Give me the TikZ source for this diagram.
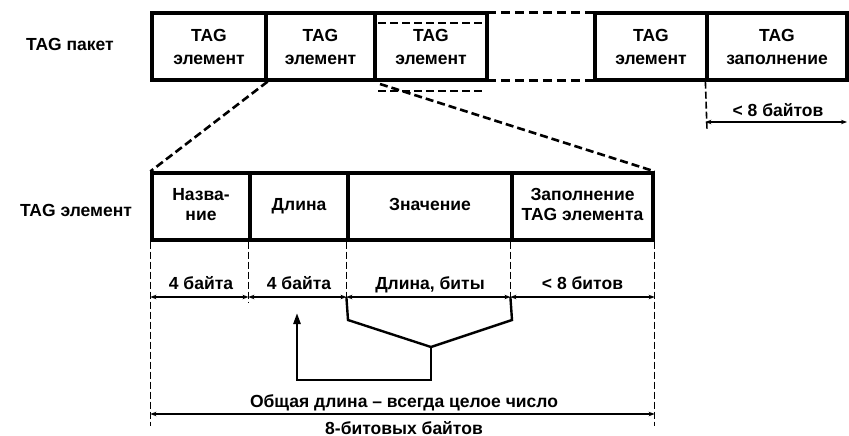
\documentclass[tikz,border=0pt]{standalone}
\usepackage{fontspec}
\setmainfont{Liberation Sans}
\usetikzlibrary{arrows.meta}
\newcommand{\vs}{\rule[-4pt]{0pt}{16pt}}
\begin{document}
\begin{tikzpicture}[x=1pt,y=-1pt,
  txt/.style={font=\fontsize{17.5}{20}\selectfont\bfseries, align=center, inner sep=0pt, anchor=base},
  topbox/.style={draw, line width=3.2pt, minimum height=67pt, inner sep=0pt, align=center,
    font=\fontsize{17.5}{23}\selectfont\bfseries},
  lowbox/.style={draw, line width=3.2pt, minimum height=67pt, inner sep=0pt, align=center,
    font=\fontsize{17.5}{20}\selectfont\bfseries},
  thickdash/.style={line width=3pt, dash pattern=on 9pt off 5pt},
  zoomline/.style={line width=2.6pt, dash pattern=on 8pt off 4pt},
  dimdash/.style={line width=1.6pt, dash pattern=on 7pt off 3pt},
  dimline/.style={line width=1.8pt, {Stealth[length=6pt,width=4.5pt]}-{Stealth[length=6pt,width=4.5pt]}},
  bracket/.style={line width=2.4pt}]
\useasboundingbox (0,0) rectangle (849,436);

% ---- labels on the left
\node[txt] (lpak) at (70,51) {TAG пакет};
\node[txt] (lel) at (76,216) {TAG элемент};

% ---- top row (TAG packet)
\node[topbox, minimum width=114pt] (t1) at (209,46.5) {TAG\\элемент};
\node[topbox, minimum width=109pt] (t2) at (320.5,46.5) {TAG\\элемент};
\node[topbox, minimum width=112pt] (t3) at (431,46.5) {TAG\\элемент};
\node[inner sep=0pt, minimum width=108pt, minimum height=67pt] (gap) at (541,46.5) {};
\node[topbox, minimum width=112pt] (t5) at (651,46.5) {TAG\\элемент};
\node[topbox, minimum width=140pt] (t6) at (777,46.5) {TAG\\заполнение};
\draw[thickdash] (gap.north west) -- (gap.north east);
\draw[thickdash] (gap.south west) -- (gap.south east);
% variable size marks of the third element
\coordinate (t3i1) at (378,23);
\coordinate (t3i2) at (485,23);
\coordinate (t3o1) at (378,91);
\coordinate (t3o2) at (485,91);
\draw[zoomline] (t3i1) -- (t3i2);
\draw[zoomline] (t3o1) -- (t3o2);

% ---- "< 8 байтов" at the top right
\coordinate (tf) at (707,130);
\coordinate (tar) at (847,122);
\draw[dimdash] (t6.south west) -- (tf);
\draw[dimline] (t6.south west |- tar) -- (tar);
\node[txt] (tfl) at (778,117) {< 8 байтов};

% ---- lower row (TAG element)
\node[lowbox, minimum width=98pt] (n1) at (201,206.5) {Назва-\vs\\ние\vs};
\node[lowbox, minimum width=98pt] (n2) at (299,206.5) {Длина\vs};
\node[lowbox, minimum width=164pt] (n3) at (430,206.5) {Значение\vs};
\node[lowbox, minimum width=141pt] (n4) at (582.5,206.5) {Заполнение\vs\\TAG элемента\vs};

% ---- zoom connectors
\coordinate (zs) at (380,84);
\draw[zoomline] (t1.south east) -- (n1.north west);
\draw[zoomline] (zs) -- (n4.north east);

% ---- dimension lines
\coordinate (dy) at (0,297);
\coordinate (shorty) at (0,302);
\coordinate (longy) at (0,426);
\draw[dimdash] (n1.south west) -- (n1.south west |- longy);
\draw[dimdash] (n4.south east) -- (n4.south east |- longy);
\draw[dimdash] (n2.south west) -- (n2.south west |- shorty);
\draw[dimdash] (n3.south west) -- (n3.south west |- shorty);
\draw[dimdash] (n4.south west) -- (n4.south west |- shorty);

\coordinate (d0) at (n1.south west |- dy);
\coordinate (d1) at (n2.south west |- dy);
\coordinate (d2) at (n3.south west |- dy);
\coordinate (d3) at (n4.south west |- dy);
\coordinate (d4) at (n4.south east |- dy);
\draw[dimline] (d0) -- (d1);
\draw[dimline] (d1) -- (d2);
\draw[dimline] (d2) -- (d3);
\draw[dimline] (d3) -- (d4);
\node[txt] (s1) at (201,289) {4 байта};
\node[txt] (s2) at (299,289) {4 байта};
\node[txt] (s3) at (430,289) {Длина, биты};
\node[txt] (s4) at (582.5,289) {< 8 битов};

% ---- bracket and arrow back to "Длина"
\coordinate (bl) at (348,320);
\coordinate (bm) at (431,347);
\coordinate (br) at (512,320);
\coordinate (bb) at (431,380);
\coordinate (ab) at (297,380);
\coordinate (at) at (297,313);
\draw[bracket, line join=miter] (d2) -- (bl) -- (bm) -- (br) -- (d3);
\draw[bracket, -{Triangle[length=11pt,width=7pt]}] (bm) -- (bb) -- (ab) -- (at);

% ---- total length
\coordinate (ty) at (0,414);
\draw[dimline] (n1.south west |- ty) -- (n4.south east |- ty);
\node[txt] (tot1) at (404,407) {Общая длина – всегда целое число};
\node[txt] (tot2) at (404,434) {8-битовых байтов};
\end{tikzpicture}
\end{document}
